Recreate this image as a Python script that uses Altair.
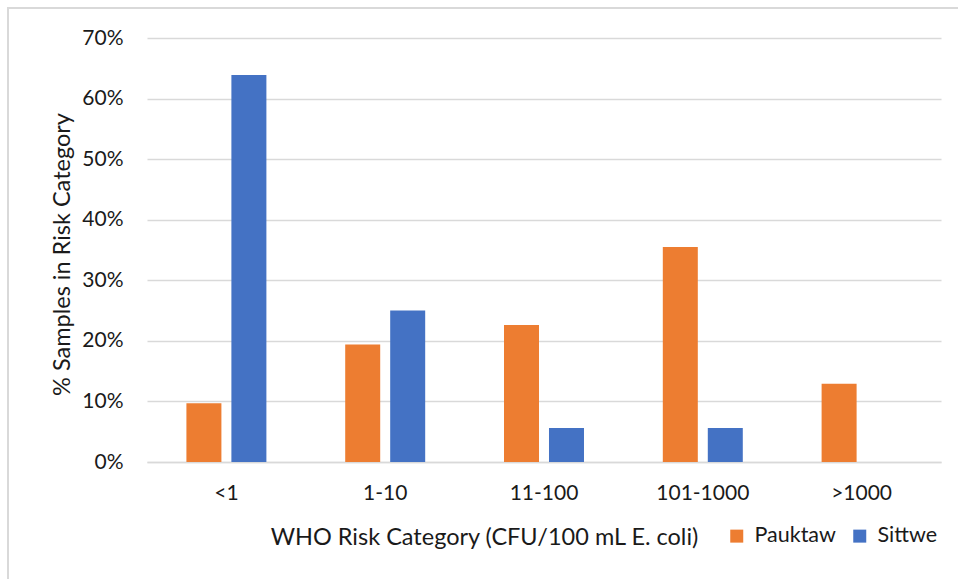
import altair as alt
import pandas as pd

# WHO risk categories and the share of samples falling into each
categories = ["<1", "1-10", "11-100", "101-1000", ">1000"]
pauktaw = [9.7, 19.4, 22.6, 35.5, 12.9]
sittwe = [63.9, 25.0, 5.6, 5.6, 0.0]
sites = ["Pauktaw", "Sittwe"]
site_colors = ["#ED7D31", "#4472C4"]
y_ticks = [0, 0.1, 0.2, 0.3, 0.4, 0.5, 0.6, 0.7]

rows = []
for cat, p, s in zip(categories, pauktaw, sittwe):
    rows.append({"category": cat, "site": "Pauktaw", "share": p / 100})
    rows.append({"category": cat, "site": "Sittwe", "share": s / 100})
df = pd.DataFrame(rows)

FONT = "Lato"
TEXT = "#1a1a1a"

bars = alt.Chart(df).mark_bar().encode(
    x=alt.X(
        "category:N",
        sort=categories,
        scale=alt.Scale(paddingInner=0, paddingOuter=0),
        axis=alt.Axis(
            title="WHO Risk Category (CFU/100 mL E. coli)",
            labelAngle=0,
            labelPadding=20,
            ticks=False,
            domain=True,
            domainColor="#d9d9d9",
            domainWidth=1.5,
            titleX=337,
            titleY=75,
            titleAlign="center",
            titleBaseline="middle",
        ),
    ),
    xOffset=alt.XOffset(
        "site:N",
        sort=sites,
        scale=alt.Scale(paddingInner=0.222, paddingOuter=0.876),
    ),
    y=alt.Y(
        "share:Q",
        scale=alt.Scale(domain=[0, 0.7], nice=False),
        axis=alt.Axis(
            title="% Samples in Risk Category",
            format=".0%",
            values=y_ticks,
            ticks=False,
            domain=False,
            labelPadding=24,
            gridColor="#d9d9d9",
            gridWidth=1.5,
            titleX=-85,
            titleY=216,
            titleBaseline="middle",
            titleAlign="center",
        ),
    ),
    color=alt.Color(
        "site:N",
        sort=sites,
        scale=alt.Scale(domain=sites, range=site_colors),
        legend=alt.Legend(
            title=None,
            orient="none",
            direction="horizontal",
            legendX=579,
            legendY=487,
            symbolType="square",
            symbolSize=169,
            symbolStrokeWidth=0,
            labelOffset=7,
            columnPadding=13,
        ),
    ),
)

# light frame around the whole figure
frame = alt.Chart(pd.DataFrame({"f": [0]})).mark_rect(
    fill=None, stroke="#d9d9d9", strokeWidth=2, clip=False
).encode(
    x=alt.value(-139), x2=alt.value(830), y=alt.value(-30), y2=alt.value(560)
)

chart = alt.layer(bars, frame).properties(
    width=794,
    height=424,
    padding={"left": 147, "top": 38, "right": 17, "bottom": 117},
    autosize=alt.AutoSizeParams(type="none"),
    background="white",
).configure_view(stroke=None).configure_axis(
    labelFont=FONT, titleFont=FONT, labelFontSize=21, titleFontSize=23.5,
    labelColor=TEXT, titleColor=TEXT, titleFontWeight="normal",
).configure_legend(
    labelFont=FONT, labelFontSize=21.5, labelColor=TEXT
)

chart.save("out.html", embed_options={"renderer": "svg", "actions": False})
